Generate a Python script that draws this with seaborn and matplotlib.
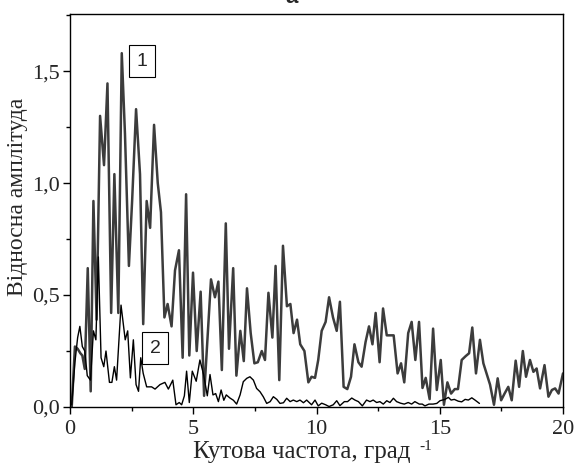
import matplotlib
matplotlib.use("Agg")
import matplotlib.pyplot as plt
import seaborn as sns
import pandas as pd
from matplotlib.ticker import MultipleLocator, FuncFormatter

# ---- data ----
x1 = [0.07,0.20,0.31,0.42,0.50,0.60,0.72,0.84,0.95,1.08,1.22,1.38,1.52,1.67,1.80,1.96,2.10,2.23,2.39,2.52,
      2.68,2.84,2.97,3.11,3.25,3.41,3.56,3.69,3.83,3.96,4.12,4.26,4.42,4.57,4.71,4.84,4.99,5.14,5.30,5.44,
      5.72,5.88,6.02,6.16,6.32,6.45,6.62,6.75,6.91,7.05,7.18,7.33,7.48,7.62,7.78,7.91,8.05,8.21,8.34,8.49,
      8.64,8.80,8.94,9.07,9.21,9.34,9.51,9.67,9.80,9.94,10.07,10.21,10.37,10.51,10.67,10.82,10.95,11.10,11.25,11.40,
      11.54,11.70,11.83,11.99,12.13,12.27,12.40,12.56,12.70,12.85,13.00,13.13,13.29,13.43,13.56,13.72,13.86,14.01,14.16,14.30,
      14.43,14.59,14.73,14.88,15.04,15.17,15.31,15.46,15.61,15.74,15.89,16.05,16.19,16.32,16.47,16.63,16.77,16.90,17.04,17.20,
      17.35,17.49,17.63,17.78,17.92,18.08,18.22,18.37,18.50,18.66,18.80,18.93,19.07,19.25,19.41,19.55,19.68,19.82,20.0]
y1 = [0.00,0.27,0.26,0.24,0.23,0.17,0.62,0.07,0.92,0.39,1.30,1.08,1.445,0.42,1.04,0.42,1.58,1.22,0.63,0.92,
      1.33,1.04,0.37,0.92,0.80,1.26,1.00,0.87,0.40,0.46,0.36,0.61,0.70,0.22,0.95,0.23,0.60,0.25,0.515,0.05,
      0.57,0.49,0.56,0.165,0.82,0.26,0.62,0.14,0.34,0.205,0.53,0.33,0.195,0.20,0.25,0.21,0.51,0.31,0.63,0.12,
      0.72,0.45,0.46,0.33,0.39,0.28,0.25,0.11,0.135,0.13,0.21,0.34,0.38,0.49,0.40,0.34,0.47,0.09,0.08,0.135,
      0.28,0.20,0.18,0.29,0.36,0.28,0.42,0.20,0.44,0.32,0.32,0.32,0.15,0.195,0.11,0.33,0.38,0.21,0.38,0.085,
      0.13,0.035,0.35,0.076,0.21,0.01,0.11,0.06,0.08,0.08,0.21,0.227,0.24,0.355,0.15,0.30,0.195,0.15,0.10,0.01,
      0.128,0.03,0.06,0.09,0.03,0.207,0.09,0.25,0.135,0.21,0.157,0.172,0.083,0.187,0.046,0.076,0.083,0.06,0.15]

x2 = [0.07,0.20,0.31,0.40,0.50,0.60,0.70,0.83,0.95,1.05,1.15,1.26,1.37,1.46,1.60,1.70,1.80,1.89,2.07,2.24,
      2.34,2.45,2.57,2.68,2.78,2.87,2.97,3.11,3.31,3.45,3.65,3.85,3.99,4.17,4.30,4.43,4.53,4.64,4.73,4.84,
      4.96,5.12,5.27,5.42,5.57,5.68,5.80,5.91,6.02,6.13,6.24,6.34,6.49,6.63,6.76,6.90,7.03,7.17,7.30,7.44,
      7.57,7.71,7.84,7.98,8.12,8.25,8.39,8.52,8.66,8.79,8.93,9.06,9.20,9.33,9.47,9.60,9.80,9.94,10.07,10.21,
      10.37,10.51,10.68,10.82,10.95,11.13,11.26,11.43,11.56,11.70,11.86,12.03,12.17,12.30,12.44,12.57,12.71,12.85,12.98,13.12,
      13.25,13.41,13.56,13.72,13.86,13.99,14.17,14.29,14.40,14.56,14.73,14.88,15.01,15.21,15.35,15.46,15.59,15.75,15.89,16.03,
      16.16,16.30,16.43,16.61]
y2 = [0.01,0.20,0.31,0.36,0.27,0.25,0.14,0.12,0.34,0.30,0.67,0.22,0.18,0.25,0.11,0.11,0.18,0.12,0.455,0.30,
      0.34,0.13,0.30,0.10,0.07,0.22,0.15,0.09,0.09,0.08,0.10,0.11,0.08,0.12,0.01,0.02,0.01,0.05,0.16,0.02,
      0.16,0.115,0.21,0.145,0.05,0.145,0.054,0.06,0.024,0.076,0.03,0.054,0.04,0.03,0.013,0.054,0.113,0.128,0.135,0.12,
      0.083,0.068,0.046,0.016,0.024,0.046,0.034,0.016,0.019,0.039,0.024,0.031,0.024,0.031,0.019,0.031,0.01,0.031,0.005,0.017,
      0.01,0.002,0.01,0.028,0.006,0.024,0.024,0.04,0.031,0.024,0.005,0.031,0.024,0.031,0.02,0.024,0.013,0.028,0.02,0.039,
      0.024,0.017,0.013,0.02,0.013,0.024,0.013,0.013,0.005,0.013,0.013,0.016,0.028,0.034,0.043,0.031,0.034,0.026,0.023,0.034,
      0.031,0.041,0.031,0.016]

series_labels = ["1", "2"]
x_label = "Кутова частота, град"
x_label_sup = "-1"
y_label = "Відносна амплітуда"
title = "a"

df1 = pd.DataFrame({"x": x1, "y": y1})
df2 = pd.DataFrame({"x": x2, "y": y2})

sns.set_style("ticks")
plt.rcParams["font.family"] = ["Liberation Serif", "DejaVu Serif"]

fig = plt.figure(figsize=(5.74, 4.72), dpi=100)
ax = fig.add_axes([70/574, 1-407/472, (563-70)/574, (407-14)/472])

sns.lineplot(data=df1, x="x", y="y", ax=ax, color="#3c3c3c", linewidth=1.8, estimator=None)
sns.lineplot(data=df2, x="x", y="y", ax=ax, color="black", linewidth=1.0, estimator=None)

ax.set_xlim(0, 20)
ax.set_ylim(0, 1.755)
ax.xaxis.set_major_locator(MultipleLocator(5))
ax.xaxis.set_minor_locator(MultipleLocator(2.5))
ax.yaxis.set_major_locator(MultipleLocator(0.5))
ax.yaxis.set_minor_locator(MultipleLocator(0.25))
ax.yaxis.set_major_formatter(FuncFormatter(lambda v, p: f"{v:.1f}".replace(".", ",")))
ax.xaxis.set_major_formatter(FuncFormatter(lambda v, p: f"{v:.0f}"))
ax.tick_params(which="major", direction="out", length=5, width=1, labelsize=16, pad=2, color="black")
ax.tick_params(axis="x", which="major", pad=4)
ax.tick_params(which="minor", direction="out", length=3, width=1, color="black")
for s in ax.spines.values():
    s.set_visible(True)
    s.set_linewidth(1.0)
    s.set_color("black")

ax.set_xlabel(x_label, fontsize=18)
ax.xaxis.set_label_coords((302 - 70) / 493, (407 - 441) / 393)
ax.set_ylabel(y_label, fontsize=17)
ax.yaxis.set_label_coords((7 - 70) / 493, (407 - 197) / 393)
ax.yaxis.label.set_va("top")
fig.text(426/574, 1-446/472, x_label_sup, fontsize=11, ha="center", va="center")
fig.text(292/574, 1-3/472, title, fontsize=16, fontweight="bold", ha="center", va="baseline",
         family=["Liberation Sans", "DejaVu Sans"])

box = dict(boxstyle="square,pad=0.4", facecolor="white", edgecolor="black", linewidth=0.8)
ax.text(2.92, 1.545, series_labels[0], fontsize=14, ha="center", va="center", bbox=box,
        family=["Liberation Sans", "DejaVu Sans"])
ax.text(3.45, 0.263, series_labels[1], fontsize=14, ha="center", va="center", bbox=box,
        family=["Liberation Sans", "DejaVu Sans"])

fig.savefig("out.png", dpi=100)
